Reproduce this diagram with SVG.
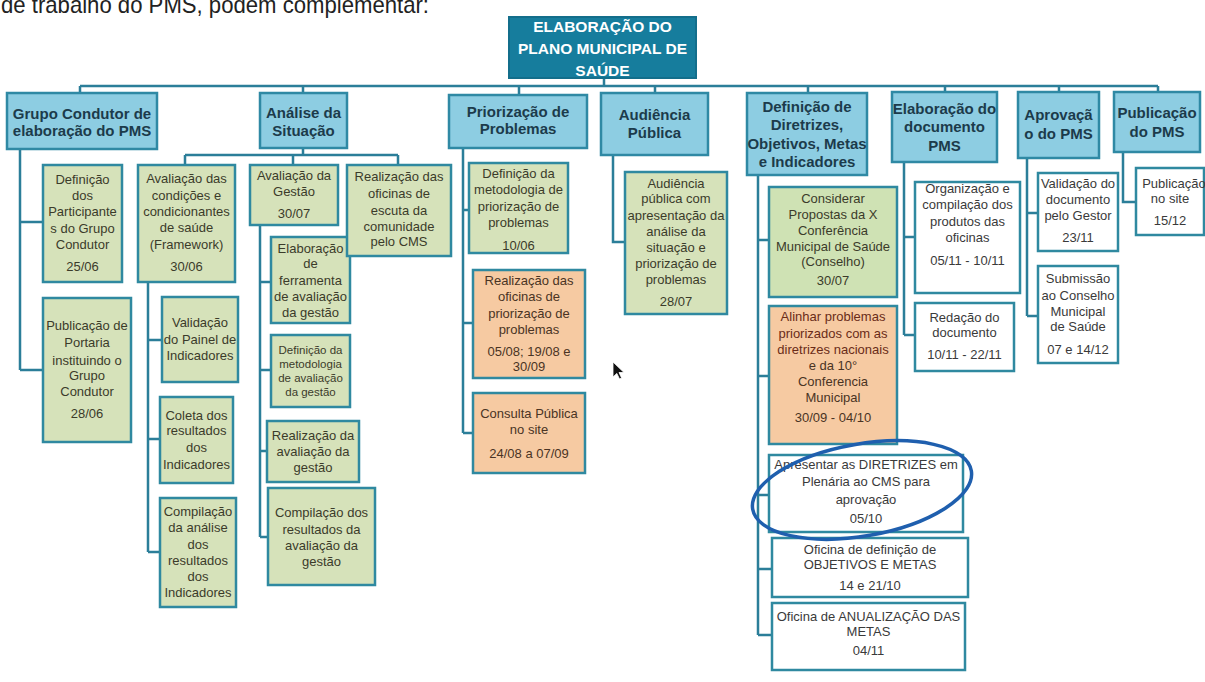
<svg xmlns="http://www.w3.org/2000/svg" width="1205" height="682" viewBox="0 0 1205 682">
<style>
text{font-family:"Liberation Sans",Arial,sans-serif;text-anchor:middle}
.top{font-size:24px;fill:#222;text-anchor:start}
.root{fill:#167d9d;stroke:#136e8b;stroke-width:2}
.rt{font-size:15.5px;font-weight:bold;fill:#fff}
.l1{fill:#8dcde2;stroke:#2f89a4;stroke-width:2.5}
.l1t{font-size:15px;font-weight:bold;fill:#1c3b4b}
.g{fill:#d6e2ba;stroke:#2f89a0;stroke-width:2.5}
.g2{fill:#cfe2b4;stroke:#2f89a0;stroke-width:2.5}
.o{fill:#f6caa2;stroke:#2f89a0;stroke-width:2.5}
.w{fill:#fff;stroke:#2f89a0;stroke-width:2.5}
.t{font-size:13px;fill:#3b3b2a}
.ts{font-size:11.5px;fill:#3b3b2a}
.to{font-size:13px;fill:#4a3424}
.tr{font-size:13px;fill:#6a2c18}
.tw{font-size:13px;fill:#3a3a3a}
.c{fill:none;stroke:#2b7e99;stroke-width:2.5}
</style>
<rect width="1205" height="682" fill="#fff"/>
<text class="top" x="1" y="13" textLength="428" lengthAdjust="spacingAndGlyphs">de trabalho do PMS, podem complementar:</text>

<g id="connectors">
<path class="c" d="M604 78V86M80 86H1158M80 86V93M303 86V93M519 86V95M655 86V93M808 86V93M945 86V92M1059 86V92M1158 86V92"/>
<path class="c" d="M20 149V370M20 222H43M20 370H43"/>
<path class="c" d="M303 148V155M185 155H398M185 155V165M293 155V165M398 155V165"/>
<path class="c" d="M148 282V552M148 340H162M148 439H160M148 552H160"/>
<path class="c" d="M260 225V537M260 282H271M260 370H271M260 451H267M260 537H268"/>
<path class="c" d="M463 148V433M463 210H469M463 323H473M463 433H473"/>
<path class="c" d="M613 155V242H625"/>
<path class="c" d="M758 175V635M758 240H769M758 376H769M758 495H769M758 569H772M758 635H772"/>
<path class="c" d="M904 162V335M904 237H915M904 335H915"/>
<path class="c" d="M1027 158V316M1027 213H1038M1027 316H1038"/>
<path class="c" d="M1123 152V202H1136"/>
</g>

<g id="root">
<rect class="root" x="509" y="17" width="187" height="61"/>
<text class="rt" x="602.5" y="32">ELABORAÇÃO DO</text>
<text class="rt" x="602.5" y="54">PLANO MUNICIPAL DE</text>
<text class="rt" x="602.5" y="75.5">SAÚDE</text>
</g>

<g id="grupo">
<rect class="l1" x="7" y="93" width="150" height="56"/>
<text class="l1t" x="82" y="118.5">Grupo Condutor de</text>
<text class="l1t" x="82" y="136">elaboração do PMS</text>
</g>
<g id="analise">
<rect class="l1" x="260" y="93" width="87" height="55"/>
<text class="l1t" x="303.5" y="118">Análise da</text>
<text class="l1t" x="303.5" y="136">Situação</text>
</g>
<g id="priorizacao">
<rect class="l1" x="449" y="95" width="138" height="53"/>
<text class="l1t" x="518" y="117">Priorização de</text>
<text class="l1t" x="518" y="134">Problemas</text>
</g>
<g id="audiencia">
<rect class="l1" x="601" y="93" width="107" height="62"/>
<text class="l1t" x="654.5" y="120">Audiência</text>
<text class="l1t" x="654.5" y="138">Pública</text>
</g>
<g id="diretrizes">
<rect class="l1" x="747" y="93" width="120" height="82"/>
<text class="l1t" x="807" y="112">Definição de</text>
<text class="l1t" x="807" y="130">Diretrizes,</text>
<text class="l1t" x="807" y="148.5">Objetivos, Metas</text>
<text class="l1t" x="807" y="167">e Indicadores</text>
</g>
<g id="elaboracao">
<rect class="l1" x="892" y="92" width="105" height="70"/>
<text class="l1t" x="944.5" y="114">Elaboração do</text>
<text class="l1t" x="944.5" y="132">documento</text>
<text class="l1t" x="944.5" y="151">PMS</text>
</g>
<g id="aprovacao">
<rect class="l1" x="1018" y="92" width="81" height="66"/>
<text class="l1t" x="1058.5" y="120">Aprovaçã</text>
<text class="l1t" x="1058.5" y="139">o do PMS</text>
</g>
<g id="publicacao">
<rect class="l1" x="1114" y="92" width="86" height="60"/>
<text class="l1t" x="1157" y="118">Publicação</text>
<text class="l1t" x="1157" y="137">do PMS</text>
</g>

<g id="g-participantes">
<rect class="g" x="43" y="165" width="79" height="117"/>
<text class="t" x="82.5" y="184">Definição</text>
<text class="t" x="82.5" y="200">dos</text>
<text class="t" x="82.5" y="216">Participante</text>
<text class="t" x="82.5" y="233">s do Grupo</text>
<text class="t" x="82.5" y="249">Condutor</text>
<text class="t" x="82.5" y="271">25/06</text>
</g>
<g id="g-portaria">
<rect class="g" x="43" y="298" width="88" height="144"/>
<text class="t" x="87" y="329.5">Publicação de</text>
<text class="t" x="87" y="347">Portaria</text>
<text class="t" x="87" y="364.5">instituindo o</text>
<text class="t" x="87" y="380">Grupo</text>
<text class="t" x="87" y="396">Condutor</text>
<text class="t" x="87" y="418">28/06</text>
</g>

<g id="a-framework">
<rect class="g" x="138" y="165" width="97" height="117"/>
<text class="t" x="186.5" y="183">Avaliação das</text>
<text class="t" x="186.5" y="199.5">condições e</text>
<text class="t" x="186.5" y="216">condicionantes</text>
<text class="t" x="186.5" y="232">de saúde</text>
<text class="t" x="186.5" y="249">(Framework)</text>
<text class="t" x="186.5" y="271">30/06</text>
</g>
<g id="a-painel">
<rect class="g" x="162" y="297" width="76" height="85"/>
<text class="t" x="200" y="327">Validação</text>
<text class="t" x="200" y="344">do Painel de</text>
<text class="t" x="200" y="359.5">Indicadores</text>
</g>
<g id="a-coleta">
<rect class="g" x="160" y="397" width="73" height="86"/>
<text class="t" x="196.5" y="419.5">Coleta dos</text>
<text class="t" x="196.5" y="435">resultados</text>
<text class="t" x="196.5" y="452">dos</text>
<text class="t" x="196.5" y="468.5">Indicadores</text>
</g>
<g id="a-compilacao">
<rect class="g" x="160" y="498" width="76" height="109"/>
<text class="t" x="198" y="516">Compilação</text>
<text class="t" x="198" y="532">da análise</text>
<text class="t" x="198" y="548.5">dos</text>
<text class="t" x="198" y="564.5">resultados</text>
<text class="t" x="198" y="580.5">dos</text>
<text class="t" x="198" y="597">Indicadores</text>
</g>
<g id="a-gestao">
<rect class="g" x="250" y="165" width="88" height="60"/>
<text class="t" x="294" y="179.5">Avaliação da</text>
<text class="t" x="294" y="196">Gestão</text>
<text class="t" x="294" y="218">30/07</text>
</g>
<g id="a-ferramenta">
<rect class="g" x="271" y="237" width="79" height="86"/>
<text class="t" x="310.5" y="252.5">Elaboração</text>
<text class="t" x="310.5" y="268">de</text>
<text class="t" x="310.5" y="284.5">ferramenta</text>
<text class="t" x="310.5" y="300.5">de avaliação</text>
<text class="t" x="310.5" y="317">da gestão</text>
</g>
<g id="a-metodologia">
<rect class="g" x="271" y="335" width="79" height="72"/>
<text class="ts" x="310.5" y="354">Definição da</text>
<text class="ts" x="310.5" y="367.5">metodologia</text>
<text class="ts" x="310.5" y="381.5">de avaliação</text>
<text class="ts" x="310.5" y="395.5">da gestão</text>
</g>
<g id="a-realizacao">
<rect class="g" x="267" y="421" width="92" height="61"/>
<text class="t" x="313" y="439.5">Realização da</text>
<text class="t" x="313" y="455.5">avaliação da</text>
<text class="t" x="313" y="472">gestão</text>
</g>
<g id="a-compilacao-gestao">
<rect class="g" x="268" y="488" width="107" height="97"/>
<text class="t" x="321.5" y="517">Compilação dos</text>
<text class="t" x="321.5" y="533.5">resultados da</text>
<text class="t" x="321.5" y="549.5">avaliação da</text>
<text class="t" x="321.5" y="566">gestão</text>
</g>
<g id="a-oficinas">
<rect class="g" x="347" y="165" width="104" height="91"/>
<text class="t" x="399" y="181">Realização das</text>
<text class="t" x="399" y="198">oficinas  de</text>
<text class="t" x="399" y="214.5">escuta da</text>
<text class="t" x="399" y="230.5">comunidade</text>
<text class="t" x="399" y="246">pelo CMS</text>
</g>

<g id="p-metodologia">
<rect class="g" x="469" y="163" width="99" height="90"/>
<text class="t" x="518.5" y="178">Definição da</text>
<text class="t" x="518.5" y="194">metodologia de</text>
<text class="t" x="518.5" y="210.5">priorização de</text>
<text class="t" x="518.5" y="227">problemas</text>
<text class="t" x="518.5" y="249.5">10/06</text>
</g>
<g id="p-oficinas">
<rect class="o" x="473" y="270" width="112" height="108"/>
<text class="to" x="529" y="284.5">Realização das</text>
<text class="to" x="529" y="301">oficinas de</text>
<text class="to" x="529" y="318">priorização de</text>
<text class="to" x="529" y="334">problemas</text>
<text class="to" x="529" y="356">05/08; 19/08 e</text>
<text class="to" x="529" y="371">30/09</text>
</g>
<g id="p-consulta">
<rect class="o" x="473" y="393" width="112" height="80"/>
<text class="to" x="529" y="418">Consulta Pública</text>
<text class="to" x="529" y="434">no site</text>
<text class="to" x="529" y="458">24/08 a 07/09</text>
</g>

<g id="au-audiencia">
<rect class="g" x="625" y="172" width="102" height="142"/>
<text class="t" x="676" y="188">Audiência</text>
<text class="t" x="676" y="203">pública  com</text>
<text class="t" x="676" y="219.5">apresentação da</text>
<text class="t" x="676" y="235.5">análise da</text>
<text class="t" x="676" y="252">situação e</text>
<text class="t" x="676" y="268">priorização de</text>
<text class="t" x="676" y="284">problemas</text>
<text class="t" x="676" y="306">28/07</text>
</g>

<g id="d-propostas">
<rect class="g2" x="769" y="187" width="128" height="110"/>
<text class="t" x="833" y="203">Considerar</text>
<text class="t" x="833" y="218.5">Propostas da X</text>
<text class="t" x="833" y="234.5">Conferência</text>
<text class="t" x="833" y="250.5">Municipal de Saúde</text>
<text class="t" x="833" y="266">(Conselho)</text>
<text class="t" x="833" y="284.5">30/07</text>
</g>
<g id="d-alinhar">
<rect class="o" x="769" y="306" width="128" height="138"/>
<text class="tr" x="833" y="321">Alinhar problemas</text>
<text class="tr" x="833" y="338">priorizados com as</text>
<text class="tr" x="833" y="354">diretrizes nacionais</text>
<text class="to" x="833" y="369.5">e da 10°</text>
<text class="to" x="833" y="386">Conferencia</text>
<text class="to" x="833" y="402">Municipal</text>
<text class="to" x="833" y="422">30/09 - 04/10</text>
</g>
<g id="d-apresentar">
<rect class="w" x="769" y="455" width="194" height="77"/>
<text class="tw" x="866" y="468.5">Apresentar as DIRETRIZES em</text>
<text class="tw" x="866" y="486">Plenária ao CMS para</text>
<text class="tw" x="866" y="504">aprovação</text>
<text class="tw" x="866" y="523">05/10</text>
</g>
<g id="d-objetivos">
<rect class="w" x="772" y="538" width="196" height="59"/>
<text class="tw" x="870" y="553.5">Oficina de definição de</text>
<text class="tw" x="870" y="569">OBJETIVOS E METAS</text>
<text class="tw" x="870" y="589.5">14 e 21/10</text>
</g>
<g id="d-anualizacao">
<rect class="w" x="772" y="603" width="193" height="67"/>
<text class="tw" x="868.5" y="621">Oficina de ANUALIZAÇÃO DAS</text>
<text class="tw" x="868.5" y="635.5">METAS</text>
<text class="tw" x="868.5" y="654.5">04/11</text>
</g>

<g id="e-organizacao">
<rect class="w" x="915" y="182" width="105" height="111"/>
<text class="tw" x="967.5" y="192.5">Organização e</text>
<text class="tw" x="967.5" y="209">compilação dos</text>
<text class="tw" x="967.5" y="226">produtos das</text>
<text class="tw" x="967.5" y="241.5">oficinas</text>
<text class="tw" x="967.5" y="264.5">05/11 - 10/11</text>
</g>
<g id="e-redacao">
<rect class="w" x="915" y="303" width="99" height="68"/>
<text class="tw" x="964.5" y="322">Redação do</text>
<text class="tw" x="964.5" y="337">documento</text>
<text class="tw" x="964.5" y="358.5">10/11 - 22/11</text>
</g>

<g id="ap-validacao">
<rect class="w" x="1038" y="173" width="80" height="78"/>
<text class="tw" x="1078" y="188">Validação do</text>
<text class="tw" x="1078" y="204">documento</text>
<text class="tw" x="1078" y="219.5">pelo Gestor</text>
<text class="tw" x="1078" y="242">23/11</text>
</g>
<g id="ap-submissao">
<rect class="w" x="1038" y="266" width="80" height="97"/>
<text class="tw" x="1078" y="283">Submissão</text>
<text class="tw" x="1078" y="299.5">ao Conselho</text>
<text class="tw" x="1078" y="315.5">Municipal</text>
<text class="tw" x="1078" y="331">de Saúde</text>
<text class="tw" x="1078" y="354">07 e 14/12</text>
</g>

<g id="pu-site">
<rect class="w" x="1136" y="168" width="68" height="67"/>
<text class="tw" x="1174" y="188">Publicação</text>
<text class="tw" x="1170" y="203">no site</text>
<text class="tw" x="1170" y="224.5">15/12</text>
</g>

<ellipse cx="862" cy="490" rx="111" ry="46" transform="rotate(-10 862 490)" fill="none" stroke="#1f5fae" stroke-width="3.5"/>
<path d="M613 362V377L616.8 373.4L619.5 379L621.6 378L619 372.5H624Z" fill="#111" stroke="#fff" stroke-width="0.8"/>
</svg>
